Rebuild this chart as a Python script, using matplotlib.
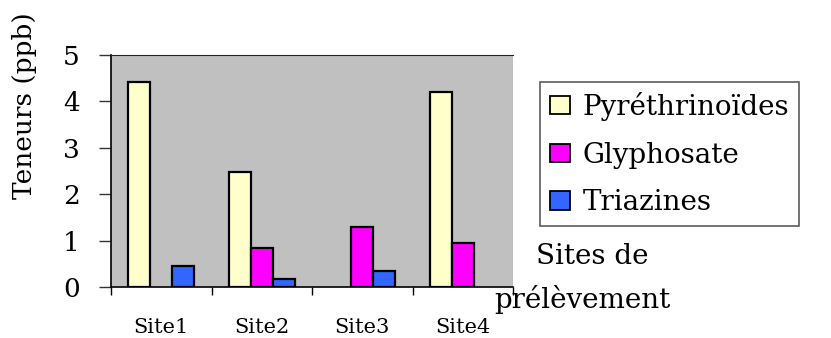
import matplotlib
matplotlib.use("Agg")
from matplotlib import pyplot as plt
from matplotlib.patches import Patch
import numpy as np

# donnees
sites = ["Site1", "Site2", "Site3", "Site4"]
pyrethrinoides = [4.42, 2.48, 0.0, 4.20]
glyphosate = [0.0, 0.83, 1.30, 0.95]
triazines = [0.46, 0.17, 0.34, 0.0]
series_names = ["Pyréthrinoïdes", "Glyphosate", "Triazines"]
couleurs = ["#FFFFCC", "#FF00FF", "#3366FF"]

plt.rcParams["font.family"] = ["DejaVu Serif"]

fig = plt.figure(figsize=(8.31, 3.38), dpi=100)
ax = fig.add_axes([0.1336, 0.151, 0.4838, 0.686])
ax.set_facecolor("#C0C0C0")

x = np.arange(len(sites))
w = 0.22
for i, (vals, c) in enumerate(zip([pyrethrinoides, glyphosate, triazines], couleurs)):
    pos = x + (i - 1) * w
    hauteurs = np.array(vals)
    mask = hauteurs > 0
    ax.bar(pos[mask], hauteurs[mask], width=w, color=c, edgecolor="black", linewidth=1.6, zorder=3)

ax.set_xlim(-0.5, 3.5)
ax.set_ylim(0, 5)
ax.set_yticks(range(0, 6))
ax.tick_params(axis="y", labelsize=19, length=8.6, width=1, color="#333333", pad=14)
ax.set_xticks(x)
ax.set_xticklabels(sites, fontsize=15)
ax.tick_params(axis="x", length=0, pad=22)
ax.set_xticks(np.arange(-0.5, 3.6, 1), minor=True)
ax.tick_params(axis="x", which="minor", length=6, width=1, color="black")
ax.set_ylabel("Teneurs (ppb)", fontsize=19)
ax.yaxis.set_label_coords(-0.185, 0.78)

ax.spines["right"].set_visible(False)
ax.spines["top"].set_color("#222222")
ax.spines["left"].set_linewidth(1.2)
ax.spines["bottom"].set_linewidth(1.2)

handles = [Patch(facecolor=c, edgecolor="black", linewidth=1.3) for c in couleurs]
leg = fig.legend(handles, series_names, loc="upper left", bbox_to_anchor=(540 / 831, 1 - 82 / 338),
                 fontsize=20, frameon=True, fancybox=False, edgecolor="#333333",
                 handlelength=0.72, handleheight=0.65, handletextpad=0.47, labelspacing=0.75,
                 borderpad=0.35, borderaxespad=0)
leg.get_frame().set_linewidth(1.2)

fig.text(536 / 831, 1 - 257 / 338, "Sites de", fontsize=20, va="center", ha="left")
fig.text(494 / 831, 1 - 299 / 338, "prélèvement", fontsize=20, va="center", ha="left")

fig.savefig("out.png", dpi=100)
